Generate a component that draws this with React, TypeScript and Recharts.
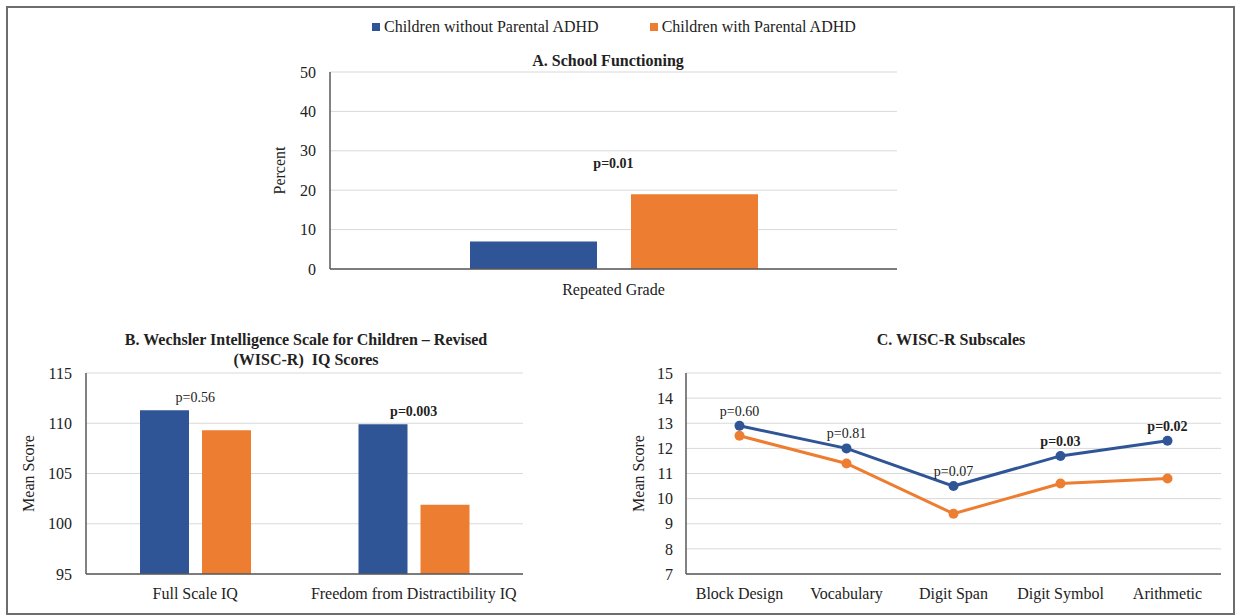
import React from "react";
import {
  BarChart,
  Bar,
  LineChart,
  Line,
  XAxis,
  YAxis,
  CartesianGrid,
  ReferenceDot,
} from "recharts";

// series
const SERIES = ["Children without Parental ADHD", "Children with Parental ADHD"];
const COLORS = ["#2F5597", "#ED7D31"];

// A. School Functioning
const schoolCategories = ["Repeated Grade"];
const schoolWithout = [7];
const schoolWith = [19];
const schoolP = ["p=0.01"];
const schoolPBold = [true];
const percentTicks = [0, 10, 20, 30, 40, 50];

// B. WISC-R IQ scores
const iqCategories = ["Full Scale IQ", "Freedom from Distractibility IQ"];
const iqWithout = [111.3, 109.9];
const iqWith = [109.3, 101.9];
const iqP = ["p=0.56", "p=0.003"];
const iqPBold = [false, true];
const iqTicks = [95, 100, 105, 110, 115];

// C. WISC-R subscales
const subCategories = ["Block Design", "Vocabulary", "Digit Span", "Digit Symbol", "Arithmetic"];
const subWithout = [12.9, 12.0, 10.5, 11.7, 12.3];
const subWith = [12.5, 11.4, 9.4, 10.6, 10.8];
const subP = ["p=0.60", "p=0.81", "p=0.07", "p=0.03", "p=0.02"];
const subPBold = [false, false, false, true, true];
const subTicks = [7, 8, 9, 10, 11, 12, 13, 14, 15];

const build = (cats: string[], a: number[], b: number[], p: string[], bold: boolean[]) =>
  cats.map((name, i) => ({ name, without: a[i], with: b[i], p: p[i], bold: bold[i] }));

const schoolData = build(schoolCategories, schoolWithout, schoolWith, schoolP, schoolPBold);
const iqData = build(iqCategories, iqWithout, iqWith, iqP, iqPBold);
const subData = build(subCategories, subWithout, subWith, subP, subPBold);

const FONT = "'Liberation Serif', 'Times New Roman', serif";
const TEXT = "#222";
const tickStyle = { fontFamily: FONT, fontSize: 16, fill: TEXT };
const axisLine = { stroke: "#595959", strokeWidth: 1.5 };
const GRID = "#d9d9d9";

const YLabel = ({ viewBox, value, cx }: any) => {
  const y = viewBox.y + viewBox.height / 2;
  return (
    <text
      x={cx}
      y={y}
      transform={`rotate(-90, ${cx}, ${y})`}
      textAnchor="middle"
      dominantBaseline="central"
      style={{ fontFamily: FONT, fontSize: 16, fill: TEXT }}
    >
      {value}
    </text>
  );
};

// p-value text placed above a reference point
const PText = ({ viewBox, value, bold, lift }: any) => {
  const x = viewBox.x + viewBox.width / 2;
  const y = viewBox.y - lift;
  return (
    <text
      x={x}
      y={y}
      textAnchor="middle"
      style={{ fontFamily: FONT, fontSize: 14, fontWeight: bold ? 700 : 400, fill: TEXT }}
    >
      {value}
    </text>
  );
};

const Title = ({ cx, top, lines }: { cx: number; top: number; lines: string[] }) => (
  <div
    style={{
      position: "absolute",
      left: cx - 300,
      top,
      width: 600,
      textAlign: "center",
      fontFamily: FONT,
      fontSize: 16,
      fontWeight: 700,
      lineHeight: "20px",
      color: TEXT,
    }}
  >
    {lines.map((l) => (
      <div key={l} style={{ whiteSpace: "pre" }}>{l}</div>
    ))}
  </div>
);

export default function App() {
  return (
    <div
      style={{
        position: "absolute",
        left: 0,
        top: 0,
        width: 1243,
        height: 616,
        background: "#fff",
        overflow: "hidden",
      }}
    >
      <div
        style={{
          position: "absolute",
          left: 6,
          top: 6,
          width: 1229,
          height: 609,
          boxSizing: "border-box",
          border: "2px solid #6d6d6d",
        }}
      />

      {/* legend */}
      <div
        style={{
          position: "absolute",
          left: 372,
          top: 17,
          height: 20,
          display: "flex",
          alignItems: "center",
          fontFamily: FONT,
          fontSize: 16,
          color: TEXT,
          whiteSpace: "nowrap",
        }}
      >
        {SERIES.map((s, i) => (
          <div key={s} style={{ display: "flex", alignItems: "center", marginRight: i === 0 ? 51 : 0 }}>
            <span style={{ width: 8, height: 8, background: COLORS[i], marginRight: 4, display: "inline-block" }} />
            <span>{s}</span>
          </div>
        ))}
      </div>

      <Title cx={608} top={51} lines={["A. School Functioning"]} />
      <Title cx={306} top={330} lines={["B. Wechsler Intelligence Scale for Children \u2013 Revised", "(WISC-R)  IQ Scores"]} />
      <Title cx={951} top={330} lines={["C. WISC-R Subscales"]} />

      {/* A */}
      <div style={{ position: "absolute", left: 0, top: 0 }}>
        <BarChart
          width={1243}
          height={310}
          data={schoolData}
          margin={{ top: 72, right: 346, bottom: 11, left: 270 }}
          barGap={34}
        >
          <CartesianGrid vertical={false} stroke={GRID} />
          <XAxis
            dataKey="name"
            height={30}
            tickLine={false}
            tickSize={0}
            tickMargin={15}
            axisLine={axisLine}
            tick={tickStyle}
          />
          <YAxis
            width={60}
            domain={[0, 50]}
            ticks={percentTicks}
            tickLine={false}
            tickSize={0}
            tickMargin={14}
            axisLine={axisLine}
            tick={tickStyle}
            label={<YLabel value="Percent" cx={279} />}
          />
          <Bar dataKey="without" fill={COLORS[0]} barSize={127} isAnimationActive={false} />
          <Bar dataKey="with" fill={COLORS[1]} barSize={127} isAnimationActive={false} />
          {schoolData.map((d) => (
            <ReferenceDot
              key={d.name}
              x={d.name}
              y={Math.max(d.without, d.with)}
              r={0}
              fill="none"
              stroke="none"
              label={<PText value={d.p} bold={d.bold} lift={26} />}
            />
          ))}
        </BarChart>
      </div>

      {/* B */}
      <div style={{ position: "absolute", left: 0, top: 310 }}>
        <BarChart
          width={620}
          height={306}
          data={iqData}
          margin={{ top: 63, right: 97, bottom: 12, left: 26 }}
          barGap={13}
        >
          <CartesianGrid vertical={false} stroke={GRID} />
          <XAxis
            dataKey="name"
            height={30}
            tickLine={false}
            tickSize={0}
            tickMargin={14}
            axisLine={axisLine}
            tick={tickStyle}
            interval={0}
          />
          <YAxis
            width={60}
            domain={[95, 115]}
            ticks={iqTicks}
            allowDataOverflow
            tickLine={false}
            tickSize={0}
            tickMargin={14}
            axisLine={axisLine}
            tick={tickStyle}
            label={<YLabel value="Mean Score" cx={28} />}
          />
          <Bar dataKey="without" fill={COLORS[0]} barSize={49} isAnimationActive={false} />
          <Bar dataKey="with" fill={COLORS[1]} barSize={49} isAnimationActive={false} />
          {iqData.map((d) => (
            <ReferenceDot
              key={d.name}
              x={d.name}
              y={Math.max(d.without, d.with)}
              r={0}
              fill="none"
              stroke="none"
              label={<PText value={d.p} bold={d.bold} lift={8} />}
            />
          ))}
        </BarChart>
      </div>

      {/* C */}
      <div style={{ position: "absolute", left: 620, top: 310 }}>
        <LineChart
          width={623}
          height={306}
          data={subData}
          margin={{ top: 63, right: 22, bottom: 12, left: 26 }}
        >
          <CartesianGrid vertical={false} stroke={GRID} />
          <XAxis
            dataKey="name"
            height={30}
            padding={{ left: 53.5, right: 53.5 }}
            tickLine={false}
            tickSize={0}
            tickMargin={14}
            axisLine={axisLine}
            tick={tickStyle}
            interval={0}
          />
          <YAxis
            width={40}
            domain={[7, 15]}
            ticks={subTicks}
            tickLine={false}
            tickSize={0}
            tickMargin={13}
            axisLine={axisLine}
            tick={tickStyle}
            label={<YLabel value="Mean Score" cx={18} />}
          />
          <Line
            type="linear"
            dataKey="with"
            stroke={COLORS[1]}
            strokeWidth={3}
            dot={{ r: 5, fill: COLORS[1], stroke: COLORS[1], strokeWidth: 0 }}
            activeDot={false}
            isAnimationActive={false}
          />
          <Line
            type="linear"
            dataKey="without"
            stroke={COLORS[0]}
            strokeWidth={3}
            dot={{ r: 5, fill: COLORS[0], stroke: COLORS[0], strokeWidth: 0 }}
            activeDot={false}
            isAnimationActive={false}
          />
          {subData.map((d) => (
            <ReferenceDot
              key={d.name}
              x={d.name}
              y={d.without}
              r={0}
              fill="none"
              stroke="none"
              label={<PText value={d.p} bold={d.bold} lift={10} />}
            />
          ))}
        </LineChart>
      </div>
    </div>
  );
}
